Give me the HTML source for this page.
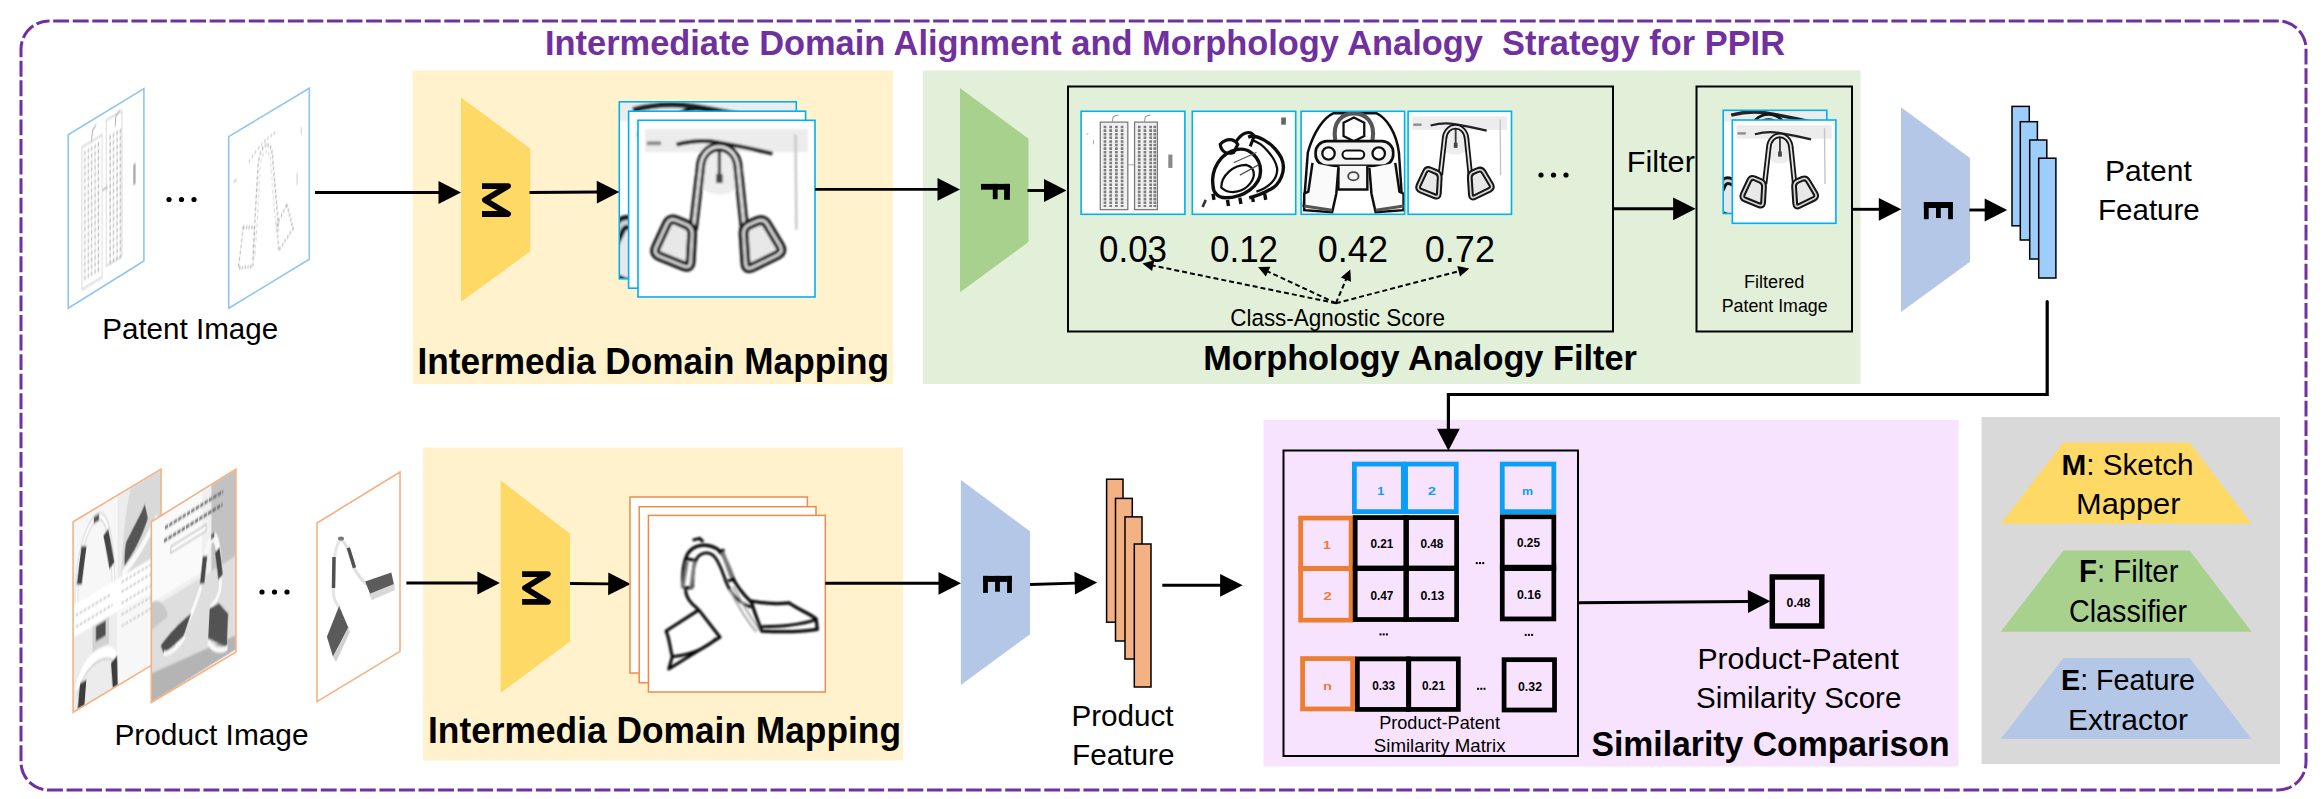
<!DOCTYPE html><html><head><meta charset="utf-8"><style>html,body{margin:0;padding:0;background:#fff;overflow:hidden}svg{display:block}text{font-family:"Liberation Sans",sans-serif}</style></head><body>
<svg width="2323" height="799" viewBox="0 0 2323 799">
<rect width="2323" height="799" fill="#fff"/>
<defs><filter id="blA" x="-5%" y="-5%" width="110%" height="110%"><feGaussianBlur stdDeviation="0.7"/></filter><filter id="blC" x="-5%" y="-5%" width="110%" height="110%"><feGaussianBlur stdDeviation="0.35"/></filter><filter id="blB" x="-5%" y="-5%" width="110%" height="110%"><feGaussianBlur stdDeviation="0.45"/></filter><filter id="blP" x="-5%" y="-5%" width="110%" height="110%"><feGaussianBlur stdDeviation="0.6"/></filter><clipPath id="cpU"><rect x="0" y="0" width="100" height="100"/></clipPath></defs>
<rect x="412.5" y="70.5" width="480.5" height="313.5" fill="#FFF2CC"/>
<rect x="923" y="70.5" width="937.5" height="313.5" fill="#E2F0D9"/>
<rect x="423" y="447.5" width="480" height="313" fill="#FFF2CC"/>
<rect x="1263.5" y="420" width="695" height="346.5" fill="#F8E3FE"/>
<rect x="1981.5" y="417" width="298.5" height="347" fill="#D9D9D9"/>
<rect x="21" y="21" width="2285" height="769" rx="28" ry="28" fill="none" stroke="#7030A0" stroke-width="3" stroke-dasharray="15.9 3.655" stroke-dashoffset="15.355"/>
<text x="545.00" y="55.0" font-size="34.88" font-weight="bold" fill="#7030A0" textLength="1240.00" lengthAdjust="spacingAndGlyphs" xml:space="preserve">Intermediate Domain Alignment and Morphology Analogy  Strategy for PPIR</text>
<polygon points="68.2,134.8 143.9,88.6 143.9,261 68.2,308.3" fill="#fff"/>
<g transform="matrix(0.7570,-0.4620,0.0000,1.7350,68.2000,134.8000)"><g filter="url(#blP)"><rect x="18" y="12" width="27" height="82" fill="none" stroke="#c4c4c4" stroke-width="0.8"/><rect x="50" y="5" width="21" height="84" fill="none" stroke="#c4c4c4" stroke-width="0.8"/><path d="M22 15 L22 91" stroke="#bcbcbc" stroke-width="1.8" stroke-dasharray="2.5 1.5" fill="none"/><path d="M26.5 15 L26.5 91" stroke="#bcbcbc" stroke-width="1.8" stroke-dasharray="2.5 1.5" fill="none"/><path d="M31 15 L31 91" stroke="#bcbcbc" stroke-width="1.8" stroke-dasharray="2.5 1.5" fill="none"/><path d="M35.5 15 L35.5 91" stroke="#bcbcbc" stroke-width="1.8" stroke-dasharray="2.5 1.5" fill="none"/><path d="M40 15 L40 91" stroke="#bcbcbc" stroke-width="1.8" stroke-dasharray="2.5 1.5" fill="none"/><path d="M55.5 15 L55.5 91" stroke="#bcbcbc" stroke-width="1.8" stroke-dasharray="2.5 1.5" fill="none"/><path d="M60 15 L60 91" stroke="#bcbcbc" stroke-width="1.8" stroke-dasharray="2.5 1.5" fill="none"/><path d="M64.5 15 L64.5 91" stroke="#bcbcbc" stroke-width="1.8" stroke-dasharray="2.5 1.5" fill="none"/><path d="M69 15 L69 91" stroke="#bcbcbc" stroke-width="1.8" stroke-dasharray="2.5 1.5" fill="none"/><path d="M31 12 L32 6 L37 4" stroke="#888" stroke-width="0.8" fill="none"/><path d="M62 12 L63 6 L68 4" stroke="#888" stroke-width="0.8" fill="none"/><rect x="86" y="40" width="3" height="12" fill="#aaa"/><path d="M45 44 L52 44" stroke="#999" stroke-width="0.8"/></g></g>
<polygon points="68.2,134.8 143.9,88.6 143.9,261 68.2,308.3" fill="none" stroke="#8FC6F0" stroke-width="1.6"/>
<polygon points="228.7,136.6 309.3,88.2 309.3,259.2 228.7,308.3" fill="#fff"/>
<g transform="matrix(0.8060,-0.4840,0.0000,1.7170,228.7000,136.6000)"><g filter="url(#blP)"><path d="M30 80 L36 30 C 37 14, 54 14, 55 30 L62 72" stroke="#9a9a9a" stroke-width="1.6" stroke-dasharray="1.5 2" fill="none"/><path d="M33 78 L39 30 C 40 19, 51 19, 52 30 L59 72" stroke="#b8b8b8" stroke-width="1" stroke-dasharray="1.5 2.5" fill="none"/><path d="M18 58 L32 62 L30 84 L12 80 Z" stroke="#9a9a9a" stroke-width="1.4" stroke-dasharray="1.5 2" fill="none"/><path d="M72 60 L80 76 L62 84 L60 68 Z" stroke="#9a9a9a" stroke-width="1.4" stroke-dasharray="1.5 2" fill="none"/><path d="M25 22 Q 40 14, 60 14" stroke="#aaa" stroke-width="1" stroke-dasharray="2 2" fill="none"/><path d="M6 28 L10 28 M85 45 L85 52 M90 20 L90 24" stroke="#bbb" stroke-width="1" fill="none"/></g></g>
<polygon points="228.7,136.6 309.3,88.2 309.3,259.2 228.7,308.3" fill="none" stroke="#8FC6F0" stroke-width="1.6"/>
<rect x="619.3" y="101.8" width="177.0" height="177.0" fill="#fff"/>
<g transform="translate(619.30,101.80) scale(1.7700,1.7700)"><g clip-path="url(#cpU)"><g filter="url(#blA)"><g transform="translate(50,32) scale(1.5) translate(-50,-32)"><rect x="4" y="5" width="92" height="13" fill="#e6e6e6" opacity="0.75"/><ellipse cx="46" cy="30" rx="14" ry="12" fill="#e8e8e8" opacity="0.8"/><path d="M89 8 L89.5 62" stroke="#c4c4c4" stroke-width="1.3" fill="none"/><path d="M5 13 L13 13" stroke="#8a8a8a" stroke-width="2.2" fill="none"/><path d="M21.8 13.8 Q 34 10.5 45 12.5 Q 60 15 76 18.8" stroke="#222" stroke-width="2.2" fill="none"/><path d="M46 17 L46 33" stroke="#3a3a3a" stroke-width="1.8" fill="none"/><rect x="44.2" y="30.5" width="3.6" height="5" fill="#444"/><path d="M31.2 62 L35.2 27 C 36 11, 55.6 11, 56.6 27 L60.2 62" stroke="#151515" stroke-width="5.2" fill="none"/><path d="M31.2 62 L35.2 27 C 36 11, 55.6 11, 56.6 27 L60.2 62" stroke="#e4e4e4" stroke-width="1.7" fill="none"/><path d="M21.68 56.58 L27.12 58.92 Q30.80 60.50 30.58 64.49 L29.72 80.01 Q29.50 84.00 25.79 82.50 L12.21 77.00 Q8.50 75.50 10.18 71.87 L16.32 58.63 Q18.00 55.00 21.68 56.58 Z" stroke="#151515" stroke-width="5.6" fill="#e8e8e8" stroke-linejoin="round"/><path d="M21.68 56.58 L27.12 58.92 Q30.80 60.50 30.58 64.49 L29.72 80.01 Q29.50 84.00 25.79 82.50 L12.21 77.00 Q8.50 75.50 10.18 71.87 L16.32 58.63 Q18.00 55.00 21.68 56.58 Z" stroke="#d4d4d4" stroke-width="1.7" fill="none" stroke-linejoin="round"/><path d="M73.04 58.94 L80.26 71.06 Q82.30 74.50 78.71 76.27 L64.59 83.23 Q61.00 85.00 60.74 81.01 L59.66 64.49 Q59.40 60.50 63.07 58.92 L67.33 57.08 Q71.00 55.50 73.04 58.94 Z" stroke="#151515" stroke-width="5.6" fill="#e8e8e8" stroke-linejoin="round"/><path d="M73.04 58.94 L80.26 71.06 Q82.30 74.50 78.71 76.27 L64.59 83.23 Q61.00 85.00 60.74 81.01 L59.66 64.49 Q59.40 60.50 63.07 58.92 L67.33 57.08 Q71.00 55.50 73.04 58.94 Z" stroke="#d4d4d4" stroke-width="1.7" fill="none" stroke-linejoin="round"/></g></g></g></g>
<rect x="619.3" y="101.8" width="177.0" height="177.0" fill="none" stroke="#00B0F0" stroke-width="1.6"/>
<rect x="628.6" y="111.2" width="177.0" height="177.0" fill="#fff"/>
<g transform="translate(628.60,111.20) scale(1.7700,1.7700)"><g clip-path="url(#cpU)"><g filter="url(#blA)"><rect x="4" y="5" width="92" height="13" fill="#e6e6e6" opacity="0.75"/><ellipse cx="46" cy="30" rx="14" ry="12" fill="#e8e8e8" opacity="0.8"/><path d="M89 8 L89.5 62" stroke="#c4c4c4" stroke-width="1.3" fill="none"/><path d="M5 13 L13 13" stroke="#8a8a8a" stroke-width="2.2" fill="none"/><path d="M21.8 13.8 Q 34 10.5 45 12.5 Q 60 15 76 18.8" stroke="#222" stroke-width="2.2" fill="none"/><path d="M46 17 L46 33" stroke="#3a3a3a" stroke-width="1.8" fill="none"/><rect x="44.2" y="30.5" width="3.6" height="5" fill="#444"/><path d="M31.2 62 L35.2 27 C 36 11, 55.6 11, 56.6 27 L60.2 62" stroke="#151515" stroke-width="5.2" fill="none"/><path d="M31.2 62 L35.2 27 C 36 11, 55.6 11, 56.6 27 L60.2 62" stroke="#e4e4e4" stroke-width="1.7" fill="none"/><path d="M21.68 56.58 L27.12 58.92 Q30.80 60.50 30.58 64.49 L29.72 80.01 Q29.50 84.00 25.79 82.50 L12.21 77.00 Q8.50 75.50 10.18 71.87 L16.32 58.63 Q18.00 55.00 21.68 56.58 Z" stroke="#151515" stroke-width="5.6" fill="#e8e8e8" stroke-linejoin="round"/><path d="M21.68 56.58 L27.12 58.92 Q30.80 60.50 30.58 64.49 L29.72 80.01 Q29.50 84.00 25.79 82.50 L12.21 77.00 Q8.50 75.50 10.18 71.87 L16.32 58.63 Q18.00 55.00 21.68 56.58 Z" stroke="#d4d4d4" stroke-width="1.7" fill="none" stroke-linejoin="round"/><path d="M73.04 58.94 L80.26 71.06 Q82.30 74.50 78.71 76.27 L64.59 83.23 Q61.00 85.00 60.74 81.01 L59.66 64.49 Q59.40 60.50 63.07 58.92 L67.33 57.08 Q71.00 55.50 73.04 58.94 Z" stroke="#151515" stroke-width="5.6" fill="#e8e8e8" stroke-linejoin="round"/><path d="M73.04 58.94 L80.26 71.06 Q82.30 74.50 78.71 76.27 L64.59 83.23 Q61.00 85.00 60.74 81.01 L59.66 64.49 Q59.40 60.50 63.07 58.92 L67.33 57.08 Q71.00 55.50 73.04 58.94 Z" stroke="#d4d4d4" stroke-width="1.7" fill="none" stroke-linejoin="round"/></g></g></g>
<rect x="628.6" y="111.2" width="177.0" height="177.0" fill="none" stroke="#00B0F0" stroke-width="1.6"/>
<rect x="638" y="120.3" width="177.0" height="176.7" fill="#fff"/>
<g transform="translate(638.00,120.30) scale(1.7700,1.7670)"><g clip-path="url(#cpU)"><g filter="url(#blA)"><rect x="4" y="5" width="92" height="13" fill="#e6e6e6" opacity="0.75"/><ellipse cx="46" cy="30" rx="14" ry="12" fill="#e8e8e8" opacity="0.8"/><path d="M89 8 L89.5 62" stroke="#c4c4c4" stroke-width="1.3" fill="none"/><path d="M5 13 L13 13" stroke="#8a8a8a" stroke-width="2.2" fill="none"/><path d="M21.8 13.8 Q 34 10.5 45 12.5 Q 60 15 76 18.8" stroke="#222" stroke-width="2.2" fill="none"/><path d="M46 17 L46 33" stroke="#3a3a3a" stroke-width="1.8" fill="none"/><rect x="44.2" y="30.5" width="3.6" height="5" fill="#444"/><path d="M31.2 62 L35.2 27 C 36 11, 55.6 11, 56.6 27 L60.2 62" stroke="#151515" stroke-width="5.2" fill="none"/><path d="M31.2 62 L35.2 27 C 36 11, 55.6 11, 56.6 27 L60.2 62" stroke="#e4e4e4" stroke-width="1.7" fill="none"/><path d="M21.68 56.58 L27.12 58.92 Q30.80 60.50 30.58 64.49 L29.72 80.01 Q29.50 84.00 25.79 82.50 L12.21 77.00 Q8.50 75.50 10.18 71.87 L16.32 58.63 Q18.00 55.00 21.68 56.58 Z" stroke="#151515" stroke-width="5.6" fill="#e8e8e8" stroke-linejoin="round"/><path d="M21.68 56.58 L27.12 58.92 Q30.80 60.50 30.58 64.49 L29.72 80.01 Q29.50 84.00 25.79 82.50 L12.21 77.00 Q8.50 75.50 10.18 71.87 L16.32 58.63 Q18.00 55.00 21.68 56.58 Z" stroke="#d4d4d4" stroke-width="1.7" fill="none" stroke-linejoin="round"/><path d="M73.04 58.94 L80.26 71.06 Q82.30 74.50 78.71 76.27 L64.59 83.23 Q61.00 85.00 60.74 81.01 L59.66 64.49 Q59.40 60.50 63.07 58.92 L67.33 57.08 Q71.00 55.50 73.04 58.94 Z" stroke="#151515" stroke-width="5.6" fill="#e8e8e8" stroke-linejoin="round"/><path d="M73.04 58.94 L80.26 71.06 Q82.30 74.50 78.71 76.27 L64.59 83.23 Q61.00 85.00 60.74 81.01 L59.66 64.49 Q59.40 60.50 63.07 58.92 L67.33 57.08 Q71.00 55.50 73.04 58.94 Z" stroke="#d4d4d4" stroke-width="1.7" fill="none" stroke-linejoin="round"/></g></g></g>
<rect x="638" y="120.3" width="177.0" height="176.7" fill="none" stroke="#00B0F0" stroke-width="1.6"/>
<rect x="1081.1" y="111.3" width="103.8" height="103.0" fill="#fff"/>
<g transform="translate(1081.10,111.30) scale(1.0380,1.0300)"><g filter="url(#blB)"><rect x="18.5" y="10.5" width="26.5" height="85" fill="#f0f0f0" stroke="#777" stroke-width="1.2"/><rect x="51.5" y="10.5" width="22" height="85" fill="#f0f0f0" stroke="#777" stroke-width="1.2"/><path d="M23 14 L23 93" stroke="#7c7c7c" stroke-width="2.6" stroke-dasharray="2.5 1" fill="none"/><path d="M28.5 14 L28.5 93" stroke="#7c7c7c" stroke-width="2.6" stroke-dasharray="2.5 1" fill="none"/><path d="M34 14 L34 93" stroke="#7c7c7c" stroke-width="2.6" stroke-dasharray="2.5 1" fill="none"/><path d="M39.5 14 L39.5 93" stroke="#7c7c7c" stroke-width="2.6" stroke-dasharray="2.5 1" fill="none"/><path d="M56 14 L56 93" stroke="#7c7c7c" stroke-width="2.6" stroke-dasharray="2.5 1" fill="none"/><path d="M61.5 14 L61.5 93" stroke="#7c7c7c" stroke-width="2.6" stroke-dasharray="2.5 1" fill="none"/><path d="M67 14 L67 93" stroke="#7c7c7c" stroke-width="2.6" stroke-dasharray="2.5 1" fill="none"/><path d="M71 14 L71 93" stroke="#7c7c7c" stroke-width="2.6" stroke-dasharray="2.5 1" fill="none"/><path d="M30 10 L31 5 L36 3.5 M61 10 L62 5 L67 3.5" stroke="#777" stroke-width="0.8" fill="none"/><rect x="84" y="42" width="4" height="13" fill="#8a8a8a"/><path d="M45 52 L51 52" stroke="#999" stroke-width="0.8"/><path d="M5 22 L7 22 M12 28 L12 32" stroke="#999" stroke-width="0.8"/></g></g>
<rect x="1081.1" y="111.3" width="103.8" height="103.0" fill="none" stroke="#00B0F0" stroke-width="1.6"/>
<rect x="1192.3" y="111.3" width="103.4" height="103.0" fill="#fff"/>
<g transform="translate(1192.30,111.30) scale(1.0340,1.0300)"><g filter="url(#blB)"><rect x="86" y="6" width="4.5" height="7" fill="#666"/><path d="M54 25 C 62 22, 78 30, 86 45 C 92 58, 84 72, 75 76 C 70 79, 63 82, 55 84" stroke="#111" stroke-width="3.3" fill="none"/><path d="M57 28 C 68 30, 80 45, 82 55 C 83 66, 74 74, 62 78" stroke="#111" stroke-width="2.2" fill="none"/><path d="M20 72 C 18 58, 26 40, 44 37 C 56 35, 66 46, 66 58 C 66 72, 50 84, 32 84 C 24 84, 20 78, 20 72 Z" stroke="#111" stroke-width="3.3" fill="none"/><path d="M28 74 C 28 62, 40 52, 52 52 C 60 54, 62 62, 56 70 C 50 78, 36 82, 28 74 Z" stroke="#111" stroke-width="2.2" fill="none"/><path d="M27 32 C 33 26, 40 26, 44 32 L 40 40 C 34 42, 28 40, 27 32 Z" stroke="#111" stroke-width="3" fill="none"/><path d="M42 30 C 48 20, 56 18, 60 24 L 56 34" stroke="#111" stroke-width="3" fill="none"/><path d="M40 50 L62 40 M46 62 L64 52" stroke="#555" stroke-width="1.2" fill="none"/><path d="M20 80 L21 86" stroke="#111" stroke-width="3.3"/><path d="M34 86 L35 92" stroke="#111" stroke-width="3.3"/><path d="M46 84 L47 90" stroke="#111" stroke-width="3.3"/><path d="M58 82 L59 88" stroke="#111" stroke-width="3.3"/><path d="M70 80 L71 86" stroke="#111" stroke-width="3.3"/><path d="M10 93 L13 86" stroke="#333" stroke-width="2.5"/></g></g>
<rect x="1192.3" y="111.3" width="103.4" height="103.0" fill="none" stroke="#00B0F0" stroke-width="1.6"/>
<rect x="1301.1" y="111.3" width="103.5" height="103.0" fill="#fff"/>
<g transform="translate(1301.10,111.30) scale(1.0350,1.0300)"><g filter="url(#blB)"><path d="M2.5 93 L6.5 40 C 12 20, 22 6, 31 2 L73 2 C 82 6, 92 20, 94.5 40 L98 93" stroke="#111" stroke-width="2.4" fill="none"/><path d="M33 28 C 30 10, 40 2, 51 2 C 62 2, 72 10, 69 28" stroke="#555" stroke-width="4" fill="none"/><polygon points="51,6 61,11 61,24 51,29 41,24 41,11" stroke="#111" stroke-width="2.2" fill="#fff"/><rect x="14" y="29" width="75" height="24" rx="11" stroke="#111" stroke-width="2.6" fill="#f2f2f2"/><circle cx="26.5" cy="41" r="6" stroke="#111" stroke-width="2.2" fill="#fff"/><circle cx="75" cy="41" r="6" stroke="#111" stroke-width="2.2" fill="#fff"/><rect x="40" y="38" width="21" height="8" rx="4" stroke="#111" stroke-width="2" fill="#fff"/><path d="M36 53 L36 76 L64 76 L64 53" stroke="#111" stroke-width="2.4" fill="#f6f6f6"/><ellipse cx="50.5" cy="63" rx="5" ry="4" stroke="#444" stroke-width="1.8" fill="none"/><path d="M11 50 L7 78 L3 80 L3 96 L30 98 L34 80 L36 55" stroke="#111" stroke-width="2.4" fill="#fafafa"/><path d="M91 50 L95 78 L99 80 L99 96 L72 98 L68 80 L66 55" stroke="#111" stroke-width="2.4" fill="#fafafa"/><path d="M3 92 L30 96 M99 92 L72 96" stroke="#555" stroke-width="3" fill="none"/></g></g>
<rect x="1301.1" y="111.3" width="103.5" height="103.0" fill="none" stroke="#00B0F0" stroke-width="1.6"/>
<rect x="1408.1" y="111.3" width="103.4" height="103.0" fill="#fff"/>
<g transform="translate(1408.10,111.30) scale(1.0340,1.0300)"><g filter="url(#blC)"><rect x="4" y="5" width="92" height="13" fill="#e6e6e6" opacity="0.75"/><ellipse cx="46" cy="30" rx="14" ry="12" fill="#e8e8e8" opacity="0.8"/><path d="M89 8 L89.5 62" stroke="#c4c4c4" stroke-width="1.3" fill="none"/><path d="M5 13 L13 13" stroke="#8a8a8a" stroke-width="2.2" fill="none"/><path d="M21.8 13.8 Q 34 10.5 45 12.5 Q 60 15 76 18.8" stroke="#222" stroke-width="2.2" fill="none"/><path d="M46 17 L46 33" stroke="#3a3a3a" stroke-width="1.8" fill="none"/><rect x="44.2" y="30.5" width="3.6" height="5" fill="#444"/><path d="M31.2 62 L35.2 27 C 36 11, 55.6 11, 56.6 27 L60.2 62" stroke="#151515" stroke-width="5.2" fill="none"/><path d="M31.2 62 L35.2 27 C 36 11, 55.6 11, 56.6 27 L60.2 62" stroke="#e4e4e4" stroke-width="1.7" fill="none"/><path d="M21.68 56.58 L27.12 58.92 Q30.80 60.50 30.58 64.49 L29.72 80.01 Q29.50 84.00 25.79 82.50 L12.21 77.00 Q8.50 75.50 10.18 71.87 L16.32 58.63 Q18.00 55.00 21.68 56.58 Z" stroke="#151515" stroke-width="5.6" fill="#e8e8e8" stroke-linejoin="round"/><path d="M21.68 56.58 L27.12 58.92 Q30.80 60.50 30.58 64.49 L29.72 80.01 Q29.50 84.00 25.79 82.50 L12.21 77.00 Q8.50 75.50 10.18 71.87 L16.32 58.63 Q18.00 55.00 21.68 56.58 Z" stroke="#d4d4d4" stroke-width="1.7" fill="none" stroke-linejoin="round"/><path d="M73.04 58.94 L80.26 71.06 Q82.30 74.50 78.71 76.27 L64.59 83.23 Q61.00 85.00 60.74 81.01 L59.66 64.49 Q59.40 60.50 63.07 58.92 L67.33 57.08 Q71.00 55.50 73.04 58.94 Z" stroke="#151515" stroke-width="5.6" fill="#e8e8e8" stroke-linejoin="round"/><path d="M73.04 58.94 L80.26 71.06 Q82.30 74.50 78.71 76.27 L64.59 83.23 Q61.00 85.00 60.74 81.01 L59.66 64.49 Q59.40 60.50 63.07 58.92 L67.33 57.08 Q71.00 55.50 73.04 58.94 Z" stroke="#d4d4d4" stroke-width="1.7" fill="none" stroke-linejoin="round"/></g></g>
<rect x="1408.1" y="111.3" width="103.4" height="103.0" fill="none" stroke="#00B0F0" stroke-width="1.6"/>
<rect x="1723.2" y="110.3" width="103.6" height="103.2" fill="#fff"/>
<g transform="translate(1723.20,110.30) scale(1.0360,1.0320)"><g clip-path="url(#cpU)"><g filter="url(#blC)"><g transform="translate(50,32) scale(1.5) translate(-50,-32)"><rect x="4" y="5" width="92" height="13" fill="#e6e6e6" opacity="0.75"/><ellipse cx="46" cy="30" rx="14" ry="12" fill="#e8e8e8" opacity="0.8"/><path d="M89 8 L89.5 62" stroke="#c4c4c4" stroke-width="1.3" fill="none"/><path d="M5 13 L13 13" stroke="#8a8a8a" stroke-width="2.2" fill="none"/><path d="M21.8 13.8 Q 34 10.5 45 12.5 Q 60 15 76 18.8" stroke="#222" stroke-width="2.2" fill="none"/><path d="M46 17 L46 33" stroke="#3a3a3a" stroke-width="1.8" fill="none"/><rect x="44.2" y="30.5" width="3.6" height="5" fill="#444"/><path d="M31.2 62 L35.2 27 C 36 11, 55.6 11, 56.6 27 L60.2 62" stroke="#151515" stroke-width="5.2" fill="none"/><path d="M31.2 62 L35.2 27 C 36 11, 55.6 11, 56.6 27 L60.2 62" stroke="#e4e4e4" stroke-width="1.7" fill="none"/><path d="M21.68 56.58 L27.12 58.92 Q30.80 60.50 30.58 64.49 L29.72 80.01 Q29.50 84.00 25.79 82.50 L12.21 77.00 Q8.50 75.50 10.18 71.87 L16.32 58.63 Q18.00 55.00 21.68 56.58 Z" stroke="#151515" stroke-width="5.6" fill="#e8e8e8" stroke-linejoin="round"/><path d="M21.68 56.58 L27.12 58.92 Q30.80 60.50 30.58 64.49 L29.72 80.01 Q29.50 84.00 25.79 82.50 L12.21 77.00 Q8.50 75.50 10.18 71.87 L16.32 58.63 Q18.00 55.00 21.68 56.58 Z" stroke="#d4d4d4" stroke-width="1.7" fill="none" stroke-linejoin="round"/><path d="M73.04 58.94 L80.26 71.06 Q82.30 74.50 78.71 76.27 L64.59 83.23 Q61.00 85.00 60.74 81.01 L59.66 64.49 Q59.40 60.50 63.07 58.92 L67.33 57.08 Q71.00 55.50 73.04 58.94 Z" stroke="#151515" stroke-width="5.6" fill="#e8e8e8" stroke-linejoin="round"/><path d="M73.04 58.94 L80.26 71.06 Q82.30 74.50 78.71 76.27 L64.59 83.23 Q61.00 85.00 60.74 81.01 L59.66 64.49 Q59.40 60.50 63.07 58.92 L67.33 57.08 Q71.00 55.50 73.04 58.94 Z" stroke="#d4d4d4" stroke-width="1.7" fill="none" stroke-linejoin="round"/></g></g></g></g>
<rect x="1723.2" y="110.3" width="103.6" height="103.2" fill="none" stroke="#00B0F0" stroke-width="1.6"/>
<rect x="1732.3" y="120" width="103.6" height="103.3" fill="#fff"/>
<g transform="translate(1732.30,120.00) scale(1.0360,1.0330)"><g clip-path="url(#cpU)"><g filter="url(#blC)"><rect x="4" y="5" width="92" height="13" fill="#e6e6e6" opacity="0.75"/><ellipse cx="46" cy="30" rx="14" ry="12" fill="#e8e8e8" opacity="0.8"/><path d="M89 8 L89.5 62" stroke="#c4c4c4" stroke-width="1.3" fill="none"/><path d="M5 13 L13 13" stroke="#8a8a8a" stroke-width="2.2" fill="none"/><path d="M21.8 13.8 Q 34 10.5 45 12.5 Q 60 15 76 18.8" stroke="#222" stroke-width="2.2" fill="none"/><path d="M46 17 L46 33" stroke="#3a3a3a" stroke-width="1.8" fill="none"/><rect x="44.2" y="30.5" width="3.6" height="5" fill="#444"/><path d="M31.2 62 L35.2 27 C 36 11, 55.6 11, 56.6 27 L60.2 62" stroke="#151515" stroke-width="5.2" fill="none"/><path d="M31.2 62 L35.2 27 C 36 11, 55.6 11, 56.6 27 L60.2 62" stroke="#e4e4e4" stroke-width="1.7" fill="none"/><path d="M21.68 56.58 L27.12 58.92 Q30.80 60.50 30.58 64.49 L29.72 80.01 Q29.50 84.00 25.79 82.50 L12.21 77.00 Q8.50 75.50 10.18 71.87 L16.32 58.63 Q18.00 55.00 21.68 56.58 Z" stroke="#151515" stroke-width="5.6" fill="#e8e8e8" stroke-linejoin="round"/><path d="M21.68 56.58 L27.12 58.92 Q30.80 60.50 30.58 64.49 L29.72 80.01 Q29.50 84.00 25.79 82.50 L12.21 77.00 Q8.50 75.50 10.18 71.87 L16.32 58.63 Q18.00 55.00 21.68 56.58 Z" stroke="#d4d4d4" stroke-width="1.7" fill="none" stroke-linejoin="round"/><path d="M73.04 58.94 L80.26 71.06 Q82.30 74.50 78.71 76.27 L64.59 83.23 Q61.00 85.00 60.74 81.01 L59.66 64.49 Q59.40 60.50 63.07 58.92 L67.33 57.08 Q71.00 55.50 73.04 58.94 Z" stroke="#151515" stroke-width="5.6" fill="#e8e8e8" stroke-linejoin="round"/><path d="M73.04 58.94 L80.26 71.06 Q82.30 74.50 78.71 76.27 L64.59 83.23 Q61.00 85.00 60.74 81.01 L59.66 64.49 Q59.40 60.50 63.07 58.92 L67.33 57.08 Q71.00 55.50 73.04 58.94 Z" stroke="#d4d4d4" stroke-width="1.7" fill="none" stroke-linejoin="round"/></g></g></g>
<rect x="1732.3" y="120" width="103.6" height="103.3" fill="none" stroke="#00B0F0" stroke-width="1.6"/>
<polygon points="73.1,521.8 161,469.1 161,659.6 73.1,712.3" fill="#fff"/>
<clipPath id="cp1"><polygon points="0,0 100,0 100,100 0,100"/></clipPath>
<g transform="matrix(0.8790,-0.5270,0.0000,1.9050,73.1000,521.8000)"><g clip-path="url(#cp1)"><g filter="url(#blP)"><rect x="0" y="0" width="100" height="100" fill="#f7f7f7"/><rect x="51" y="0" width="49" height="44" fill="#d9d9d9"/><path d="M51 0 L66 0 C 60 10, 56 24, 55 44 L51 44 Z" fill="#ececec"/><path d="M81.6 13.2 L85.1 21.8 C 78 30, 68 36, 58.5 39.4 C 58 34, 59 30, 60.3 27.3 C 68 22, 76 18, 81.6 13.2 Z" fill="#555"/><path d="M56 43 C 68 40, 82 34, 96 24" stroke="#fafafa" stroke-width="4" fill="none"/><path d="M4 44 C 3 28, 10 8, 26 5 C 38 4, 44 20, 46 44" stroke="#dcdcdc" stroke-width="4.5" fill="none"/><path d="M4 44 C 3 28, 10 8, 26 5 C 38 4, 44 20, 46 44" stroke="#ffffff" stroke-width="2" fill="none"/><path d="M12.4 16.2 L 7 34.8" stroke="#454545" stroke-width="6" fill="none"/><path d="M37.2 15.7 L 44.3 35.3" stroke="#454545" stroke-width="6" fill="none"/><rect x="23.5" y="4" width="6" height="3.5" fill="#555"/><rect x="0" y="44" width="100" height="17" fill="#ffffff"/><path d="M3 50 L42 50" stroke="#bdbdbd" stroke-width="1" stroke-dasharray="3 1.5"/><path d="M3 56 L45 56" stroke="#bdbdbd" stroke-width="1" stroke-dasharray="3 1.5"/><path d="M55 47 L96 47" stroke="#bdbdbd" stroke-width="1" stroke-dasharray="3 1.5"/><path d="M55 52 L94 52" stroke="#bdbdbd" stroke-width="1" stroke-dasharray="3 1.5"/><path d="M55 58 L93 58" stroke="#bdbdbd" stroke-width="1" stroke-dasharray="3 1.5"/><path d="M55 64 L92 64" stroke="#bdbdbd" stroke-width="1" stroke-dasharray="3 1.5"/><path d="M55 70 L90 70" stroke="#bdbdbd" stroke-width="1" stroke-dasharray="3 1.5"/><rect x="0" y="61" width="50" height="39" fill="#ececec"/><rect x="22" y="61" width="19" height="14" fill="#d2d2d2"/><rect x="26" y="62" width="11" height="8" fill="#505050"/><path d="M6 90 C 10 76, 40 74, 48 86" stroke="#ffffff" stroke-width="7" fill="none"/><path d="M5 93 C 10 79, 40 77, 49 89" stroke="#c4c4c4" stroke-width="1" fill="none"/><path d="M5 100 L8 87 L15 87 L13 100 Z" fill="#3c3c3c"/><path d="M43 86 L50 84 L51 100 L45 100 Z" fill="#3c3c3c"/></g></g></g>
<polygon points="73.1,521.8 161,469.1 161,659.6 73.1,712.3" fill="none" stroke="#F4B183" stroke-width="1.6"/>
<polygon points="151.3,521.8 235.9,469.1 235.9,652 151.3,702.5" fill="#fff"/>
<g transform="matrix(0.8460,-0.5270,0.0000,1.8070,151.3000,521.8000)"><g clip-path="url(#cp1)"><g filter="url(#blP)"><rect x="0" y="0" width="100" height="100" fill="#f0f0f0"/><rect x="0" y="0" width="60" height="45" fill="#fafafa"/><rect x="71" y="0" width="29" height="50" fill="#c2c2c2"/><path d="M0 48 L100 48 L100 100 L0 100 Z" fill="#dedede"/><path d="M0 45 C 8 44, 16 50, 20 58 L 0 60 Z" fill="#c8c8c8"/><path d="M0 86 L40 100 L0 100 Z" fill="#a6a6a6"/><path d="M0 84 L100 92 L100 100 L0 100 Z" fill="#b4b4b4"/><path d="M16 8 L85 8" stroke="#6a6a6a" stroke-width="2" stroke-dasharray="4 1.2"/><path d="M15 15 L84 15" stroke="#6a6a6a" stroke-width="2" stroke-dasharray="4 1.2"/><rect x="23" y="20.5" width="42" height="3.5" fill="#fcfcfc" stroke="#999" stroke-width="0.6"/><path d="M60 52 C 62 40, 66 30, 72.7 29.9 C 78 30, 80 40, 82 55" stroke="#f8f8f8" stroke-width="5" fill="none"/><path d="M63.6 37.5 L 60 51.7" stroke="#4a4a4a" stroke-width="5.5" fill="none"/><path d="M78 38.2 L 81.9 54.6" stroke="#4a4a4a" stroke-width="5.5" fill="none"/><rect x="70.5" y="27.5" width="4" height="3" fill="#666"/><path d="M59 53 C 52 62, 42 70, 29 77" stroke="#fafafa" stroke-width="3.5" fill="none"/><path d="M82 55 C 82 62, 80 66, 69 68" stroke="#fafafa" stroke-width="3" fill="none"/><path d="M47.3 64.3 L38.2 74.4 C 30 76, 20 77, 14.6 77 L10.9 71.7 C 20 68, 36 65, 47.3 64.3 Z" fill="#505050"/><path d="M14.6 77 C 22 80, 32 79, 40 75" stroke="#fafafa" stroke-width="2.5" fill="none"/><path d="M80 68.4 L90.9 77.4 L89.1 95.5 L67.3 84.3 L69 67.9 Z" fill="#525252"/><path d="M67.3 86 C 72 92, 82 96, 90 96" stroke="#fafafa" stroke-width="3" fill="none"/></g></g></g>
<polygon points="151.3,521.8 235.9,469.1 235.9,652 151.3,702.5" fill="none" stroke="#F4B183" stroke-width="1.6"/>
<polygon points="317,523 400,472 400,651.4 317,701.6" fill="#fff" stroke="#F4B183" stroke-width="1.6"/>
<path d="M340.7 538.6 C 336 545, 334 555, 334 570 L 333.5 590 C 333 598, 336 604, 340 608" stroke="#e4e4e4" stroke-width="3" fill="none"/><path d="M341 540 C 346 542, 350 552, 354 568 C 358 576, 362 580, 367 585" stroke="#e0e0e0" stroke-width="3" fill="none"/><path d="M334 557 L 333.5 588" stroke="#505050" stroke-width="3.5" fill="none"/><path d="M348.3 547.8 L 354.5 567.8" stroke="#505050" stroke-width="3.5" fill="none"/><ellipse cx="341" cy="538.5" rx="3" ry="2" fill="#777"/><path d="M365.2 581.6 L391.3 572.4 L394.4 586.2 L371.3 597 Z" fill="#5c5c5c"/><path d="M369 594 L394 584 L395 590 L372 600 Z" fill="#d8d8d8"/><path d="M339.1 606 L348.3 627.6 L333 656.7 L326.9 636.8 Z" fill="#5a5a5a"/><path d="M333 656.7 L348.3 627.6 L350 632 L336 662 Z" fill="#d0d0d0"/>
<circle cx="169" cy="199.5" r="2.6" fill="#000"/><circle cx="181.5" cy="199.5" r="2.6" fill="#000"/><circle cx="194" cy="199.5" r="2.6" fill="#000"/>
<text x="102.20" y="338.8" font-size="29.94" font-weight="normal" fill="#000" textLength="176.00" lengthAdjust="spacingAndGlyphs" >Patent Image</text>
<line x1="315.0" y1="192.5" x2="439.5" y2="192.5" stroke="#000" stroke-width="2.9"/>
<polygon points="461.0,192.5 438.5,203.9 438.5,181.1" fill="#000"/>
<polygon points="461,97.4 530.2,148.5 530.2,251.5 461,301.7" fill="#FFD966"/>
<line x1="529.5" y1="192.5" x2="597.8" y2="192.0" stroke="#000" stroke-width="2.9"/>
<polygon points="619.3,191.9 596.9,203.5 596.7,180.7" fill="#000"/>
<line x1="815.0" y1="189.4" x2="938.5" y2="189.4" stroke="#000" stroke-width="2.9"/>
<polygon points="960.0,189.4 937.5,200.8 937.5,178.0" fill="#000"/>
<polygon points="960,88 1028.5,138.7 1028.5,242 960,292.3" fill="#A9D18E"/>
<line x1="1027.5" y1="190.5" x2="1045.0" y2="190.5" stroke="#000" stroke-width="2.9"/>
<polygon points="1066.5,190.5 1044.0,201.9 1044.0,179.1" fill="#000"/>
<rect x="1068" y="86.5" width="545" height="245" fill="none" stroke="#000" stroke-width="2"/>
<text x="1099.00" y="262.2" font-size="36.34" font-weight="normal" fill="#000" textLength="68.00" lengthAdjust="spacingAndGlyphs" >0.03</text>
<text x="1210.00" y="262.2" font-size="36.34" font-weight="normal" fill="#000" textLength="68.00" lengthAdjust="spacingAndGlyphs" >0.12</text>
<text x="1317.80" y="262.2" font-size="36.34" font-weight="normal" fill="#000" textLength="70.20" lengthAdjust="spacingAndGlyphs" >0.42</text>
<text x="1424.80" y="262.2" font-size="36.34" font-weight="normal" fill="#000" textLength="70.20" lengthAdjust="spacingAndGlyphs" >0.72</text>
<line x1="1335.9" y1="303.2" x2="1152.2" y2="265.4" stroke="#000" stroke-width="2" stroke-dasharray="5 3"/>
<polygon points="1142.4,263.4 1154.3,260.2 1152.1,271.0" fill="#000"/>
<line x1="1335.9" y1="303.2" x2="1267.2" y2="271.2" stroke="#000" stroke-width="2" stroke-dasharray="5 3"/>
<polygon points="1258.1,267.0 1270.4,266.7 1265.8,276.6" fill="#000"/>
<line x1="1335.9" y1="303.2" x2="1346.4" y2="278.6" stroke="#000" stroke-width="2" stroke-dasharray="5 3"/>
<polygon points="1350.3,269.4 1351.0,281.7 1340.9,277.4" fill="#000"/>
<line x1="1335.9" y1="303.2" x2="1459.6" y2="271.0" stroke="#000" stroke-width="2" stroke-dasharray="5 3"/>
<polygon points="1469.3,268.5 1460.0,276.6 1457.3,265.9" fill="#000"/>
<text x="1230.20" y="325.9" font-size="23.69" font-weight="normal" fill="#000" textLength="214.70" lengthAdjust="spacingAndGlyphs" >Class-Agnostic Score</text>
<circle cx="1541" cy="175" r="2.6" fill="#000"/><circle cx="1553.5" cy="175" r="2.6" fill="#000"/><circle cx="1566" cy="175" r="2.6" fill="#000"/>
<text x="1203.20" y="369.8" font-size="34.59" font-weight="bold" fill="#000" textLength="433.80" lengthAdjust="spacingAndGlyphs" >Morphology Analogy Filter</text>
<text x="1626.70" y="171.8" font-size="30.09" font-weight="normal" fill="#000" textLength="68.20" lengthAdjust="spacingAndGlyphs" >Filter</text>
<line x1="1613.0" y1="208.8" x2="1674.1" y2="208.8" stroke="#000" stroke-width="2.9"/>
<polygon points="1695.6,208.8 1673.1,220.2 1673.1,197.4" fill="#000"/>
<rect x="1696.5" y="86.5" width="155.5" height="245" fill="none" stroke="#000" stroke-width="2"/>
<text x="1743.90" y="287.7" font-size="18.02" font-weight="normal" fill="#000" textLength="60.50" lengthAdjust="spacingAndGlyphs" >Filtered</text>
<text x="1721.70" y="311.8" font-size="17.73" font-weight="normal" fill="#000" textLength="106.00" lengthAdjust="spacingAndGlyphs" >Patent Image</text>
<line x1="1852.0" y1="209.3" x2="1879.8" y2="209.3" stroke="#000" stroke-width="2.9"/>
<polygon points="1901.3,209.3 1878.8,220.7 1878.8,197.9" fill="#000"/>
<polygon points="1901,107.3 1970,158 1970,261.8 1901,312" fill="#B4C7E7"/>
<line x1="1969.4" y1="210.0" x2="1985.7" y2="210.0" stroke="#000" stroke-width="2.9"/>
<polygon points="2007.2,210.0 1984.7,221.4 1984.7,198.6" fill="#000"/>
<rect x="2012" y="106.4" width="17.3" height="119.4" fill="#9DCDFB" stroke="#000" stroke-width="1.5"/>
<rect x="2020.3" y="121.7" width="17.1" height="118.3" fill="#9DCDFB" stroke="#000" stroke-width="1.5"/>
<rect x="2029.7" y="140" width="17.1" height="119.0" fill="#9DCDFB" stroke="#000" stroke-width="1.5"/>
<rect x="2038.7" y="158.2" width="17.2" height="119.8" fill="#9DCDFB" stroke="#000" stroke-width="1.5"/>
<text x="2105.00" y="180.9" font-size="30.09" font-weight="normal" fill="#000" textLength="86.80" lengthAdjust="spacingAndGlyphs" >Patent</text>
<text x="2098.00" y="219.6" font-size="30.09" font-weight="normal" fill="#000" textLength="101.80" lengthAdjust="spacingAndGlyphs" >Feature</text>
<polyline points="2047.2,301.5 2047.2,394.5 1448.4,394.5 1448.4,430" fill="none" stroke="#000" stroke-width="3.2" stroke-linecap="round"/>
<polygon points="1448.4,450.7 1437,428.7 1459.8,428.7" fill="#000"/>
<text x="114.40" y="744.8" font-size="30.23" font-weight="normal" fill="#000" textLength="194.20" lengthAdjust="spacingAndGlyphs" >Product Image</text>
<circle cx="262" cy="592" r="2.6" fill="#000"/><circle cx="274.5" cy="592" r="2.6" fill="#000"/><circle cx="287" cy="592" r="2.6" fill="#000"/>
<line x1="406.4" y1="583.0" x2="478.4" y2="583.0" stroke="#000" stroke-width="2.9"/>
<polygon points="499.9,583.0 477.4,594.4 477.4,571.6" fill="#000"/>
<polygon points="500.7,480.4 570,533.8 570,641.6 500.7,692.8" fill="#FFD966"/>
<line x1="570.0" y1="583.5" x2="609.2" y2="583.9" stroke="#000" stroke-width="2.9"/>
<polygon points="630.7,584.1 608.1,595.3 608.3,572.5" fill="#000"/>
<rect x="630" y="497" width="177.4" height="176.0" fill="#fff"/>
<g transform="translate(630.00,497.00) scale(1.7740,1.7600)"><g filter="url(#blA)"><path d="M19.5 41 C 19 32, 20 26, 22 22 C 25 17, 32 15, 39 19 C 43 22, 46 30, 48 36 C 51 42, 55 46, 58 49" stroke="#000" stroke-width="1.8" fill="none"/><path d="M25 41 C 25 33, 25.5 28, 27 25 C 29 21, 34 20, 37 23 C 40 26, 42 32, 44 38 C 47 45, 52 50, 58 52" stroke="#000" stroke-width="1.6" fill="none"/><path d="M21.5 24.5 L26.5 25.5 M39.5 21 L43 19.5 M19.5 41 L25 41 M45 37 L49 36" stroke="#000" stroke-width="1.7" fill="none"/><path d="M22 26 L19.5 41 M26 26 L24 41" stroke="#777" stroke-width="1.7" fill="none"/><path d="M42 21 L47 35" stroke="#777" stroke-width="2.2" fill="none"/><path d="M21 42 C 21 46, 24 50, 28 53" stroke="#000" stroke-width="1.7" fill="none"/><path d="M48 40 C 53 50, 58 58, 63 65 M46 42 C 51 52, 56 60, 61 66" stroke="#999" stroke-width="1" fill="none"/><path d="M25 14 L29 13 L31 15" stroke="#000" stroke-width="1.7" fill="none"/><path d="M10 65.5 L28.5 53.5 L40.5 69 L11.5 87 L13.5 80 C 12 74, 12 70, 10 65.5 Z" stroke="#000" stroke-width="1.7" fill="none" stroke-linejoin="round"/><path d="M13.5 80 C 22 79, 32 76, 38.5 69.5" stroke="#000" stroke-width="1.6" fill="none"/><path d="M58 48.5 C 66 50, 72 50.5, 79.5 49.5 C 84 53, 90 55, 94.8 58.5 L95.5 64.5 C 86 66, 74 66, 64 65.5 C 62 60, 60 55, 58 48.5 Z" stroke="#000" stroke-width="1.8" fill="none" stroke-linejoin="round"/><path d="M64 63 C 74 63, 86 62, 94.5 59" stroke="#000" stroke-width="1.6" fill="none"/></g></g>
<rect x="630" y="497" width="177.4" height="176.0" fill="none" stroke="#F08A4B" stroke-width="1.5"/>
<rect x="639.2" y="506.7" width="176.8" height="176.0" fill="#fff"/>
<g transform="translate(639.20,506.70) scale(1.7680,1.7600)"><g filter="url(#blA)"><path d="M19.5 41 C 19 32, 20 26, 22 22 C 25 17, 32 15, 39 19 C 43 22, 46 30, 48 36 C 51 42, 55 46, 58 49" stroke="#000" stroke-width="1.8" fill="none"/><path d="M25 41 C 25 33, 25.5 28, 27 25 C 29 21, 34 20, 37 23 C 40 26, 42 32, 44 38 C 47 45, 52 50, 58 52" stroke="#000" stroke-width="1.6" fill="none"/><path d="M21.5 24.5 L26.5 25.5 M39.5 21 L43 19.5 M19.5 41 L25 41 M45 37 L49 36" stroke="#000" stroke-width="1.7" fill="none"/><path d="M22 26 L19.5 41 M26 26 L24 41" stroke="#777" stroke-width="1.7" fill="none"/><path d="M42 21 L47 35" stroke="#777" stroke-width="2.2" fill="none"/><path d="M21 42 C 21 46, 24 50, 28 53" stroke="#000" stroke-width="1.7" fill="none"/><path d="M48 40 C 53 50, 58 58, 63 65 M46 42 C 51 52, 56 60, 61 66" stroke="#999" stroke-width="1" fill="none"/><path d="M25 14 L29 13 L31 15" stroke="#000" stroke-width="1.7" fill="none"/><path d="M10 65.5 L28.5 53.5 L40.5 69 L11.5 87 L13.5 80 C 12 74, 12 70, 10 65.5 Z" stroke="#000" stroke-width="1.7" fill="none" stroke-linejoin="round"/><path d="M13.5 80 C 22 79, 32 76, 38.5 69.5" stroke="#000" stroke-width="1.6" fill="none"/><path d="M58 48.5 C 66 50, 72 50.5, 79.5 49.5 C 84 53, 90 55, 94.8 58.5 L95.5 64.5 C 86 66, 74 66, 64 65.5 C 62 60, 60 55, 58 48.5 Z" stroke="#000" stroke-width="1.8" fill="none" stroke-linejoin="round"/><path d="M64 63 C 74 63, 86 62, 94.5 59" stroke="#000" stroke-width="1.6" fill="none"/></g></g>
<rect x="639.2" y="506.7" width="176.8" height="176.0" fill="none" stroke="#F08A4B" stroke-width="1.5"/>
<rect x="648.4" y="515.4" width="176.9" height="176.6" fill="#fff"/>
<g transform="translate(648.40,515.40) scale(1.7690,1.7660)"><g filter="url(#blA)"><path d="M19.5 41 C 19 32, 20 26, 22 22 C 25 17, 32 15, 39 19 C 43 22, 46 30, 48 36 C 51 42, 55 46, 58 49" stroke="#000" stroke-width="1.8" fill="none"/><path d="M25 41 C 25 33, 25.5 28, 27 25 C 29 21, 34 20, 37 23 C 40 26, 42 32, 44 38 C 47 45, 52 50, 58 52" stroke="#000" stroke-width="1.6" fill="none"/><path d="M21.5 24.5 L26.5 25.5 M39.5 21 L43 19.5 M19.5 41 L25 41 M45 37 L49 36" stroke="#000" stroke-width="1.7" fill="none"/><path d="M22 26 L19.5 41 M26 26 L24 41" stroke="#777" stroke-width="1.7" fill="none"/><path d="M42 21 L47 35" stroke="#777" stroke-width="2.2" fill="none"/><path d="M21 42 C 21 46, 24 50, 28 53" stroke="#000" stroke-width="1.7" fill="none"/><path d="M48 40 C 53 50, 58 58, 63 65 M46 42 C 51 52, 56 60, 61 66" stroke="#999" stroke-width="1" fill="none"/><path d="M25 14 L29 13 L31 15" stroke="#000" stroke-width="1.7" fill="none"/><path d="M10 65.5 L28.5 53.5 L40.5 69 L11.5 87 L13.5 80 C 12 74, 12 70, 10 65.5 Z" stroke="#000" stroke-width="1.7" fill="none" stroke-linejoin="round"/><path d="M13.5 80 C 22 79, 32 76, 38.5 69.5" stroke="#000" stroke-width="1.6" fill="none"/><path d="M58 48.5 C 66 50, 72 50.5, 79.5 49.5 C 84 53, 90 55, 94.8 58.5 L95.5 64.5 C 86 66, 74 66, 64 65.5 C 62 60, 60 55, 58 48.5 Z" stroke="#000" stroke-width="1.8" fill="none" stroke-linejoin="round"/><path d="M64 63 C 74 63, 86 62, 94.5 59" stroke="#000" stroke-width="1.6" fill="none"/></g></g>
<rect x="648.4" y="515.4" width="176.9" height="176.6" fill="none" stroke="#F08A4B" stroke-width="1.5"/>
<text x="428.00" y="742.8" font-size="36.19" font-weight="bold" fill="#000" textLength="473.00" lengthAdjust="spacingAndGlyphs" >Intermedia Domain Mapping</text>
<text x="417.40" y="373.8" font-size="36.05" font-weight="bold" fill="#000" textLength="471.60" lengthAdjust="spacingAndGlyphs" >Intermedia Domain Mapping</text>
<line x1="825.3" y1="583.3" x2="939.5" y2="583.3" stroke="#000" stroke-width="2.9"/>
<polygon points="961.0,583.3 938.5,594.7 938.5,571.9" fill="#000"/>
<polygon points="960.9,480 1030,531.3 1030,634.2 960.9,685" fill="#B4C7E7"/>
<line x1="1030.0" y1="584.5" x2="1075.7" y2="583.1" stroke="#000" stroke-width="2.9"/>
<polygon points="1097.2,582.5 1075.0,594.6 1074.4,571.8" fill="#000"/>
<rect x="1106.6" y="479.2" width="16.4" height="143.0" fill="#F4B183" stroke="#000" stroke-width="1.5"/>
<rect x="1115.5" y="498.4" width="16.8" height="142.6" fill="#F4B183" stroke="#000" stroke-width="1.5"/>
<rect x="1125" y="516.9" width="17.0" height="142.1" fill="#F4B183" stroke="#000" stroke-width="1.5"/>
<rect x="1134.3" y="544" width="16.7" height="143.0" fill="#F4B183" stroke="#000" stroke-width="1.5"/>
<text x="1071.40" y="725.8" font-size="30.09" font-weight="normal" fill="#000" textLength="102.20" lengthAdjust="spacingAndGlyphs" >Product</text>
<text x="1072.00" y="764.9" font-size="30.09" font-weight="normal" fill="#000" textLength="102.60" lengthAdjust="spacingAndGlyphs" >Feature</text>
<line x1="1162.3" y1="585.3" x2="1221.1" y2="585.3" stroke="#000" stroke-width="2.9"/>
<polygon points="1242.6,585.3 1220.1,596.7 1220.1,573.9" fill="#000"/>
<rect x="1283.5" y="450.5" width="294.5" height="305.5" fill="none" stroke="#000" stroke-width="2"/>
<rect x="1354.38" y="464.07" width="48.95" height="47.55" fill="none" stroke="#0A9EF5" stroke-width="4.75"/>
<rect x="1405.58" y="464.07" width="50.65" height="47.55" fill="none" stroke="#0A9EF5" stroke-width="4.75"/>
<rect x="1502.28" y="464.07" width="51.55" height="47.55" fill="none" stroke="#0A9EF5" stroke-width="4.75"/>
<rect x="1300.67" y="518.08" width="50.45" height="50.55" fill="none" stroke="#ED7D31" stroke-width="4.75"/>
<rect x="1300.67" y="568.38" width="50.45" height="51.75" fill="none" stroke="#ED7D31" stroke-width="4.75"/>
<rect x="1302.58" y="658.58" width="50.05" height="50.35" fill="none" stroke="#ED7D31" stroke-width="4.75"/>
<rect x="1355.17" y="517.58" width="51.35" height="51.05" fill="none" stroke="#000" stroke-width="4.75"/>
<rect x="1355.17" y="567.98" width="51.35" height="51.55" fill="none" stroke="#000" stroke-width="4.75"/>
<rect x="1405.78" y="517.58" width="50.85" height="51.05" fill="none" stroke="#000" stroke-width="4.75"/>
<rect x="1405.78" y="567.98" width="50.85" height="51.55" fill="none" stroke="#000" stroke-width="4.75"/>
<rect x="1502.28" y="516.77" width="51.55" height="51.85" fill="none" stroke="#000" stroke-width="4.75"/>
<rect x="1502.28" y="567.17" width="51.55" height="51.75" fill="none" stroke="#000" stroke-width="4.75"/>
<rect x="1357.38" y="658.88" width="51.15" height="50.55" fill="none" stroke="#000" stroke-width="4.75"/>
<rect x="1408.78" y="658.88" width="49.55" height="50.55" fill="none" stroke="#000" stroke-width="4.75"/>
<rect x="1504.08" y="659.67" width="50.45" height="50.35" fill="none" stroke="#000" stroke-width="4.75"/>
<text x="1377.20" y="495.0" font-size="11.05" font-weight="bold" fill="#0A9EF5" textLength="7.00" lengthAdjust="spacingAndGlyphs" >1</text>
<text x="1427.80" y="495.0" font-size="11.05" font-weight="bold" fill="#0A9EF5" textLength="8.20" lengthAdjust="spacingAndGlyphs" >2</text>
<text x="1522.00" y="495.0" font-size="11.05" font-weight="bold" fill="#0A9EF5" textLength="11.00" lengthAdjust="spacingAndGlyphs" >m</text>
<text x="1323.00" y="549.2" font-size="11.19" font-weight="bold" fill="#ED7D31" textLength="8.00" lengthAdjust="spacingAndGlyphs" >1</text>
<text x="1323.40" y="600.0" font-size="11.19" font-weight="bold" fill="#ED7D31" textLength="8.20" lengthAdjust="spacingAndGlyphs" >2</text>
<text x="1323.00" y="689.5" font-size="11.19" font-weight="bold" fill="#ED7D31" textLength="9.00" lengthAdjust="spacingAndGlyphs" >n</text>
<text x="1370.40" y="548.0" font-size="11.92" font-weight="bold" fill="#000" textLength="23.00" lengthAdjust="spacingAndGlyphs" >0.21</text>
<text x="1420.40" y="548.0" font-size="11.92" font-weight="bold" fill="#000" textLength="23.00" lengthAdjust="spacingAndGlyphs" >0.48</text>
<text x="1517.00" y="547.2" font-size="11.92" font-weight="bold" fill="#000" textLength="23.00" lengthAdjust="spacingAndGlyphs" >0.25</text>
<text x="1370.40" y="600.0" font-size="11.92" font-weight="bold" fill="#000" textLength="23.00" lengthAdjust="spacingAndGlyphs" >0.47</text>
<text x="1420.40" y="600.0" font-size="11.92" font-weight="bold" fill="#000" textLength="24.00" lengthAdjust="spacingAndGlyphs" >0.13</text>
<text x="1517.00" y="599.0" font-size="11.92" font-weight="bold" fill="#000" textLength="24.00" lengthAdjust="spacingAndGlyphs" >0.16</text>
<text x="1372.20" y="689.9" font-size="11.92" font-weight="bold" fill="#000" textLength="23.00" lengthAdjust="spacingAndGlyphs" >0.33</text>
<text x="1422.00" y="689.9" font-size="11.92" font-weight="bold" fill="#000" textLength="23.00" lengthAdjust="spacingAndGlyphs" >0.21</text>
<text x="1518.00" y="690.5" font-size="11.92" font-weight="bold" fill="#000" textLength="24.00" lengthAdjust="spacingAndGlyphs" >0.32</text>
<rect x="1475.8" y="562.1" width="2" height="2" fill="#000"/>
<rect x="1479.0" y="562.1" width="2" height="2" fill="#000"/>
<rect x="1482.2" y="562.1" width="2" height="2" fill="#000"/>
<rect x="1379.5" y="633.4" width="2" height="2" fill="#000"/>
<rect x="1382.7" y="633.4" width="2" height="2" fill="#000"/>
<rect x="1385.9" y="633.4" width="2" height="2" fill="#000"/>
<rect x="1524.7" y="633.9" width="2" height="2" fill="#000"/>
<rect x="1527.9" y="633.9" width="2" height="2" fill="#000"/>
<rect x="1531.1" y="633.9" width="2" height="2" fill="#000"/>
<rect x="1477.1" y="687.8" width="2" height="2" fill="#000"/>
<rect x="1480.3" y="687.8" width="2" height="2" fill="#000"/>
<rect x="1483.5" y="687.8" width="2" height="2" fill="#000"/>
<text x="1379.20" y="728.9" font-size="17.44" font-weight="normal" fill="#000" textLength="120.80" lengthAdjust="spacingAndGlyphs" >Product-Patent</text>
<text x="1373.80" y="751.9" font-size="17.44" font-weight="normal" fill="#000" textLength="131.80" lengthAdjust="spacingAndGlyphs" >Similarity Matrix</text>
<line x1="1578.0" y1="602.7" x2="1748.9" y2="601.5" stroke="#000" stroke-width="2.9"/>
<polygon points="1770.4,601.3 1748.0,612.9 1747.8,590.1" fill="#000"/>
<rect x="1772.3" y="577" width="49.5" height="49" fill="none" stroke="#000" stroke-width="5.5"/>
<text x="1786.60" y="607.3" font-size="11.92" font-weight="bold" fill="#000" textLength="23.80" lengthAdjust="spacingAndGlyphs" >0.48</text>
<text x="1697.40" y="669.0" font-size="29.80" font-weight="normal" fill="#000" textLength="201.40" lengthAdjust="spacingAndGlyphs" >Product-Patent</text>
<text x="1696.00" y="708.1" font-size="29.80" font-weight="normal" fill="#000" textLength="205.40" lengthAdjust="spacingAndGlyphs" >Similarity Score</text>
<text x="1591.40" y="755.5" font-size="34.88" font-weight="bold" fill="#000" textLength="358.20" lengthAdjust="spacingAndGlyphs" >Similarity Comparison</text>
<polygon points="0,0 0,0 0,0 0,0" fill="none"/>
<polygon points="2063.4,442.6 2189.7,442.6 2251.7,523.8 2000.8,523.8" fill="#FFD966"/>
<polygon points="2063.4,550.4 2189.7,550.4 2251.7,631.7 2000.8,631.7" fill="#A9D18E"/>
<polygon points="2063.4,658 2189.7,658 2251.7,739 2000.8,739" fill="#B4C7E7"/>
<text x="2061.50" y="474.9" font-size="30.23" font-weight="normal" fill="#000" textLength="132.00" lengthAdjust="spacingAndGlyphs" ><tspan font-weight="bold">M</tspan><tspan font-weight="normal">: Sketch</tspan></text>
<text x="2076.00" y="513.8" font-size="30.23" font-weight="normal" fill="#000" textLength="104.50" lengthAdjust="spacingAndGlyphs" ><tspan font-weight="normal">Mapper</tspan></text>
<text x="2079.00" y="582.1" font-size="30.52" font-weight="normal" fill="#000" textLength="99.50" lengthAdjust="spacingAndGlyphs" ><tspan font-weight="bold">F</tspan><tspan font-weight="normal">: Filter</tspan></text>
<text x="2069.00" y="621.5" font-size="30.52" font-weight="normal" fill="#000" textLength="118.00" lengthAdjust="spacingAndGlyphs" ><tspan font-weight="normal">Classifier</tspan></text>
<text x="2061.00" y="689.9" font-size="30.23" font-weight="normal" fill="#000" textLength="134.00" lengthAdjust="spacingAndGlyphs" ><tspan font-weight="bold">E</tspan><tspan font-weight="normal">: Feature</tspan></text>
<text x="2068.00" y="729.9" font-size="30.23" font-weight="normal" fill="#000" textLength="120.00" lengthAdjust="spacingAndGlyphs" ><tspan font-weight="normal">Extractor</tspan></text>
<path d="M484.9 186.1 H508.1 L484.9 200.1 L508.1 214.0 H484.9" fill="none" stroke="#000" stroke-width="5.8" stroke-linejoin="round" stroke-linecap="square"/>
<path d="M525.0 574.1 H547.9 L525.0 588.0 L547.9 601.9 H525.0" fill="none" stroke="#000" stroke-width="5.8" stroke-linejoin="round" stroke-linecap="square"/>
<rect x="981.0" y="183.9" width="28.9" height="5.8" fill="#000"/>
<rect x="1004.1" y="183.9" width="5.8" height="15.9" fill="#000"/>
<rect x="992.8" y="183.9" width="4.8" height="15.3" fill="#000"/>
<rect x="1923.9" y="202.0" width="29.0" height="6" fill="#000"/>
<rect x="1923.9" y="202.0" width="4.8" height="17.2" fill="#000"/>
<rect x="1948.1" y="202.0" width="4.8" height="17.2" fill="#000"/>
<rect x="1936.0" y="202.0" width="4.8" height="16.0" fill="#000"/>
<rect x="983.1" y="575.9" width="28.8" height="6" fill="#000"/>
<rect x="983.1" y="575.9" width="4.8" height="17.0" fill="#000"/>
<rect x="1007.1" y="575.9" width="4.8" height="17.0" fill="#000"/>
<rect x="995.1" y="575.9" width="4.8" height="15.8" fill="#000"/>
</svg></body></html>
